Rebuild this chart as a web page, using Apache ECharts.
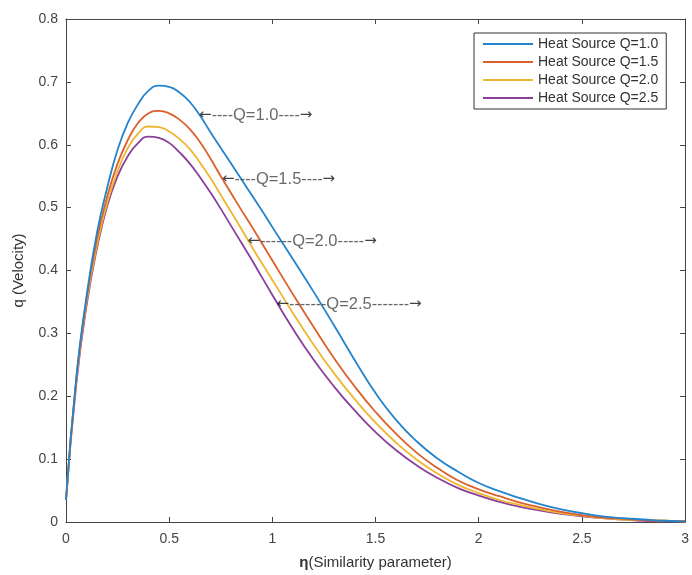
<!DOCTYPE html>
<html>
<head>
<meta charset="utf-8">
<script src="https://cdn.jsdelivr.net/npm/echarts@6/dist/echarts.min.js"></script>
<style>
  html, body { margin: 0; padding: 0; background: #fff; }
  #chart { width: 692px; height: 575px; }
</style>
</head>
<body>
<div id="chart"></div>
<script>
// ---- data ----
const eta = [0, 0.05, 0.1, 0.15, 0.2, 0.25, 0.3, 0.35, 0.4, 0.45, 0.5,
             0.55, 0.6, 0.65, 0.7, 0.75, 0.8, 0.85, 0.9, 0.95, 1.0,
             1.1, 1.2, 1.3, 1.4, 1.5, 1.6, 1.7, 1.8, 1.9,
             2.0, 2.1, 2.2, 2.3, 2.4, 2.5, 2.6, 2.7, 2.8, 2.9, 3.0];

const seriesNames = ['Heat Source Q=1.0', 'Heat Source Q=1.5', 'Heat Source Q=2.0', 'Heat Source Q=2.5'];

const q10 = [0.035, 0.23, 0.36, 0.46, 0.532, 0.592, 0.635, 0.665, 0.686, 0.694, 0.692,
             0.683, 0.668, 0.646, 0.620, 0.595, 0.570, 0.545, 0.520, 0.495, 0.469,
             0.418, 0.366, 0.312, 0.257, 0.205, 0.162, 0.128, 0.101, 0.080,
             0.062, 0.049, 0.038, 0.028, 0.020, 0.014, 0.009, 0.006, 0.004, 0.002, 0.001];
const q15 = [0.035, 0.228, 0.355, 0.45, 0.518, 0.570, 0.608, 0.635, 0.650, 0.654, 0.650,
             0.640, 0.625, 0.604, 0.578, 0.550, 0.523, 0.496, 0.470, 0.443, 0.416,
             0.362, 0.310, 0.260, 0.215, 0.175, 0.140, 0.110, 0.086, 0.066,
             0.052, 0.041, 0.031, 0.023, 0.016, 0.011, 0.007, 0.005, 0.003, 0.002, 0.001];
const q20 = [0.035, 0.225, 0.35, 0.44, 0.508, 0.558, 0.595, 0.618, 0.629, 0.628, 0.621,
             0.609, 0.593, 0.571, 0.547, 0.520, 0.493, 0.466, 0.438, 0.411, 0.385,
             0.332, 0.282, 0.236, 0.195, 0.158, 0.126, 0.099, 0.077, 0.059,
             0.046, 0.035, 0.027, 0.020, 0.014, 0.010, 0.006, 0.004, 0.003, 0.002, 0.001];
const q25 = [0.035, 0.22, 0.345, 0.435, 0.503, 0.550, 0.582, 0.603, 0.613, 0.611, 0.603,
             0.588, 0.570, 0.548, 0.524, 0.498, 0.471, 0.444, 0.417, 0.389, 0.361,
             0.307, 0.258, 0.215, 0.177, 0.143, 0.114, 0.090, 0.070, 0.054,
             0.042, 0.032, 0.024, 0.018, 0.013, 0.009, 0.006, 0.004, 0.002, 0.001, 0.001];

const xTicks = [0, 0.5, 1, 1.5, 2, 2.5, 3];
const yTicks = [0, 0.1, 0.2, 0.3, 0.4, 0.5, 0.6, 0.7, 0.8];

// annotations: label, dashes on each side, eta and q of the arrow tip
const noteLabel = ['Q=1.0', 'Q=1.5', 'Q=2.0', 'Q=2.5'];
const noteDashL = [4, 4, 6, 7];
const noteDashR = [4, 4, 5, 7];
const noteEta = [0.645, 0.756, 0.88, 1.02];
const noteQ = [0.647, 0.545, 0.446, 0.346];

const colors = ['#2384cc', '#dc602c', '#efb630', '#8b3f9b'];
// --------------------------------------

const allQ = [q10, q15, q20, q25];
const axisColor = '#444';
const font = 'Liberation Sans, Arial, Helvetica, sans-serif';

const chart = echarts.init(document.getElementById('chart'), null, { renderer: 'canvas' });

const lineSeries = allQ.map((arr, i) => ({
  name: seriesNames[i],
  type: 'line',
  data: eta.map((e, k) => [e, arr[k]]),
  symbol: 'none',
  smooth: 0.5,
  lineStyle: { width: 1.8, color: colors[i] },
  itemStyle: { color: colors[i] },
  z: 3 + (3 - i)
}));

const noteSeries = {
  type: 'scatter',
  name: 'notes',
  data: noteLabel.map((t, i) => [noteEta[i], noteQ[i], i]),
  symbolSize: 0,
  silent: true,
  z: 10,
  label: {
    show: true,
    position: 'right',
    distance: 0,
    formatter: p => {
      const i = p.data[2];
      return '{a|\u2190}{d|' + '-'.repeat(noteDashL[i]) + '}{t|' + noteLabel[i] + '}{d|' +
             '-'.repeat(noteDashR[i]) + '}{a|\u2192}';
    },
    rich: {
      a: { fontFamily: 'DejaVu Sans', fontSize: 15, color: '#111' },
      d: { fontFamily: font, fontSize: 16, color: '#444' },
      t: { fontFamily: font, fontSize: 16.5, color: '#444' }
    }
  }
};

const commonX = {
  type: 'value', min: xTicks[0], max: xTicks[xTicks.length - 1], interval: 0.5,
  axisLine: { show: true, onZero: false, lineStyle: { color: axisColor, width: 1 } },
  axisTick: { show: true, inside: true, length: 5, lineStyle: { color: axisColor } },
  splitLine: { show: false }
};
const commonY = {
  type: 'value', min: yTicks[0], max: yTicks[yTicks.length - 1], interval: 0.1,
  axisLine: { show: true, onZero: false, lineStyle: { color: axisColor, width: 1 } },
  axisTick: { show: true, inside: true, length: 5, lineStyle: { color: axisColor } },
  splitLine: { show: false }
};

chart.setOption({
  animation: false,
  backgroundColor: '#fff',
  textStyle: { fontFamily: font },
  grid: { left: 66, right: 3, top: 19, bottom: 50, containLabel: false },
  legend: {
    data: seriesNames,
    orient: 'vertical',
    left: 474, top: 33,
    itemWidth: 50, itemHeight: 14, itemGap: 4,
    padding: [4, 8, 4, 8],
    borderColor: '#333', borderWidth: 1,
    backgroundColor: '#fff',
    textStyle: { color: '#333', fontSize: 14, fontFamily: font },
    itemStyle: { opacity: 0 },
    lineStyle: { width: 2 }
  },
  xAxis: [
    Object.assign({}, commonX, {
      position: 'bottom',
      name: '{b|\u03b7}(Similarity parameter)',
      nameLocation: 'middle', nameGap: 33,
      nameTextStyle: { color: '#333', fontSize: 15, fontFamily: font,
        rich: { b: { fontWeight: 'bold', fontSize: 15, color: '#333', fontFamily: font } } },
      axisLabel: { color: '#444', fontSize: 14, margin: 10, fontFamily: font }
    }),
    Object.assign({}, commonX, { position: 'top', axisLabel: { show: false } })
  ],
  yAxis: [
    Object.assign({}, commonY, {
      position: 'left',
      name: 'q (Velocity)',
      nameLocation: 'middle', nameGap: 40,
      nameTextStyle: { color: '#333', fontSize: 15, fontFamily: font },
      axisLabel: { color: '#444', fontSize: 14, margin: 8, fontFamily: font }
    }),
    Object.assign({}, commonY, { position: 'right', axisLabel: { show: false } })
  ],
  series: lineSeries.concat([noteSeries])
});
</script>
</body>
</html>
